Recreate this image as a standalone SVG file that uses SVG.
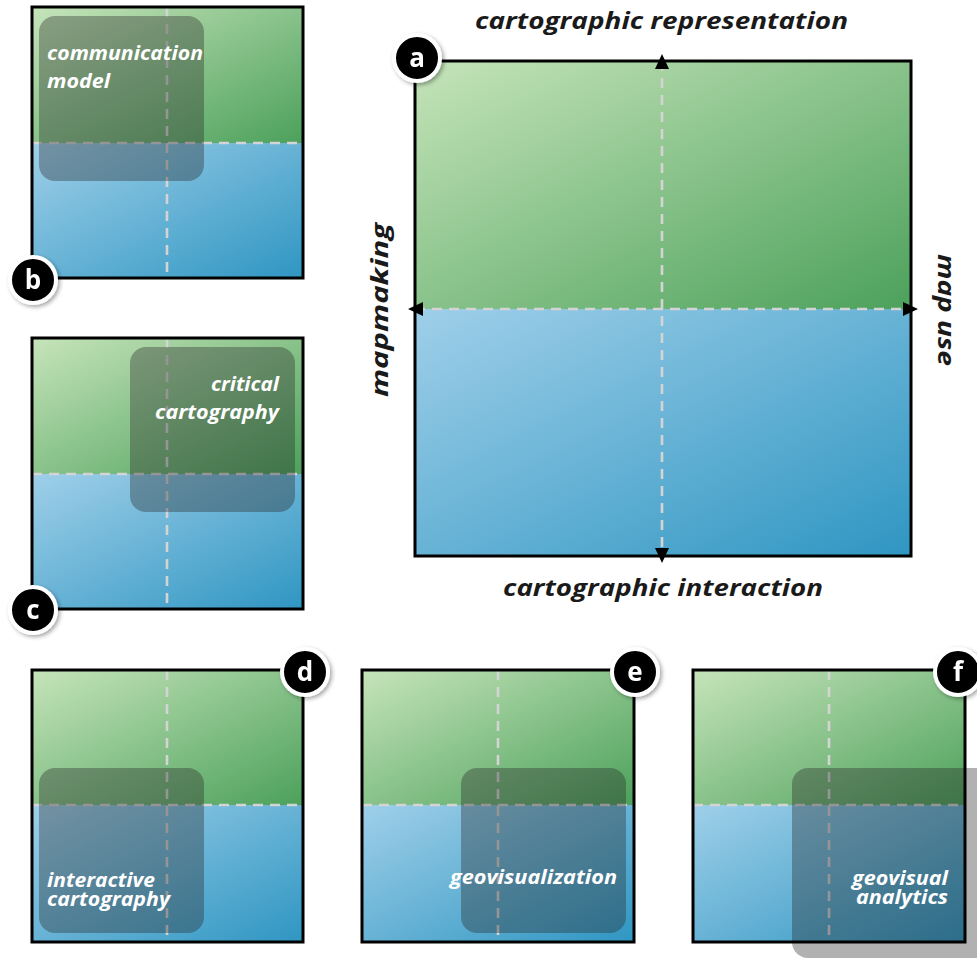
<svg xmlns="http://www.w3.org/2000/svg" width="977" height="959" viewBox="0 0 977 959">
<defs>
<linearGradient id="gGreen" x1="0" y1="0" x2="1" y2="1"><stop offset="0" stop-color="#c6e4ba"/><stop offset="1" stop-color="#4ca15b"/></linearGradient>
<linearGradient id="gBlue" x1="0" y1="0" x2="1" y2="1"><stop offset="0" stop-color="#9fcfe9"/><stop offset="1" stop-color="#2f96c2"/></linearGradient>
<filter id="sh" x="-30%" y="-30%" width="160%" height="160%"><feDropShadow dx="2" dy="2" stdDeviation="2" flood-color="#000" flood-opacity="0.35"/></filter>
<marker id="arr" viewBox="0 0 15 14" markerWidth="15" markerHeight="14" refX="8" refY="7" markerUnits="userSpaceOnUse" orient="auto-start-reverse"><path d="M0,0 L15,7 L0,14 Z" fill="#000"/></marker>
<style>
.frame{fill:none;stroke:#000;stroke-width:3}
.dash{stroke:#d4d4d4;stroke-width:2.6;stroke-dasharray:10 7;fill:none}
.ov{fill:#262626;fill-opacity:0.36}
.lbl{font-family:"Open Sans",Lato,sans-serif;font-weight:700;font-style:italic;fill:#fff;font-size:19px}
.axis{font-family:"Open Sans",Lato,sans-serif;font-weight:700;font-style:italic;fill:#1a1a1a;font-size:24px}
.badge circle{fill:#000;stroke:#fff;stroke-width:4}
.badge text{font-family:"Open Sans",Lato,sans-serif;font-weight:700;fill:#fff;font-size:26px;text-anchor:middle}
</style>
</defs>
<rect width="977" height="959" fill="#fff"/>

<!-- panel a -->
<g id="panel-a">
<rect x="415" y="61" width="496" height="248" fill="url(#gGreen)"/>
<rect x="415" y="309" width="496" height="247" fill="url(#gBlue)"/>
<rect class="frame" x="415" y="61" width="496" height="495"/>
<text class="axis" x="475" y="29" textLength="373" lengthAdjust="spacingAndGlyphs">cartographic representation</text>
<text class="axis" x="503" y="596" textLength="320" lengthAdjust="spacingAndGlyphs">cartographic interaction</text>
<text class="axis" transform="translate(388,397) rotate(-90)" textLength="174" lengthAdjust="spacingAndGlyphs">mapmaking</text>
<text class="axis" transform="translate(938,254) rotate(90)" textLength="112" lengthAdjust="spacingAndGlyphs">map use</text>
<g class="badge" filter="url(#sh)"><circle cx="417" cy="58" r="23"/><text x="417" y="67">a</text></g>
</g>

<g id="connectors">
<line class="dash" x1="662" y1="61" x2="662" y2="556" marker-start="url(#arr)" marker-end="url(#arr)"/>
<line class="dash" x1="415" y1="309" x2="911" y2="309" marker-start="url(#arr)" marker-end="url(#arr)"/>
</g>

<!-- panel b -->
<g id="panel-b">
<rect x="32" y="7" width="271" height="136" fill="url(#gGreen)"/>
<rect x="32" y="143" width="271" height="135" fill="url(#gBlue)"/>
<line class="dash" x1="167" y1="7" x2="167" y2="278"/>
<line class="dash" x1="32" y1="143" x2="303" y2="143"/>
<rect class="ov" x="39" y="16" width="165" height="165" rx="16"/>
<rect class="frame" x="32" y="7" width="271" height="271"/>
<text class="lbl" x="47" y="60" textLength="156" lengthAdjust="spacingAndGlyphs">communication</text>
<text class="lbl" x="47" y="88" textLength="63" lengthAdjust="spacingAndGlyphs">model</text>
<g class="badge" filter="url(#sh)"><circle cx="33" cy="280" r="23"/><text x="33" y="289">b</text></g>
</g>

<!-- panel c -->
<g id="panel-c">
<rect x="32" y="338" width="271" height="136" fill="url(#gGreen)"/>
<rect x="32" y="474" width="271" height="135" fill="url(#gBlue)"/>
<line class="dash" x1="167" y1="338" x2="167" y2="609"/>
<line class="dash" x1="32" y1="474" x2="303" y2="474"/>
<rect class="ov" x="130" y="347" width="165" height="165" rx="16"/>
<rect class="frame" x="32" y="338" width="271" height="271"/>
<text class="lbl" x="211" y="391" textLength="68" lengthAdjust="spacingAndGlyphs">critical</text>
<text class="lbl" x="155" y="419" textLength="124" lengthAdjust="spacingAndGlyphs">cartography</text>
<g class="badge" filter="url(#sh)"><circle cx="33" cy="610" r="23"/><text x="33" y="619">c</text></g>
</g>

<!-- panel d -->
<g id="panel-d">
<rect x="32" y="670" width="271" height="135" fill="url(#gGreen)"/>
<rect x="32" y="805" width="271" height="137" fill="url(#gBlue)"/>
<line class="dash" x1="167" y1="670" x2="167" y2="942"/>
<line class="dash" x1="32" y1="805" x2="303" y2="805"/>
<rect class="ov" x="39" y="768" width="165" height="165" rx="16"/>
<rect class="frame" x="32" y="670" width="271" height="272"/>
<text class="lbl" x="47" y="887" textLength="108" lengthAdjust="spacingAndGlyphs">interactive</text>
<text class="lbl" x="47" y="906" textLength="123" lengthAdjust="spacingAndGlyphs">cartography</text>
<g class="badge" filter="url(#sh)"><circle cx="305" cy="672" r="23"/><text x="305" y="681">d</text></g>
</g>

<!-- panel e -->
<g id="panel-e">
<rect x="362" y="670" width="272" height="135" fill="url(#gGreen)"/>
<rect x="362" y="805" width="272" height="137" fill="url(#gBlue)"/>
<line class="dash" x1="498" y1="670" x2="498" y2="942"/>
<line class="dash" x1="362" y1="805" x2="634" y2="805"/>
<rect class="ov" x="461" y="768" width="165" height="165" rx="16"/>
<rect class="frame" x="362" y="670" width="272" height="272"/>
<text class="lbl" x="450" y="884" textLength="167" lengthAdjust="spacingAndGlyphs">geovisualization</text>
<g class="badge" filter="url(#sh)"><circle cx="635" cy="672" r="23"/><text x="635" y="681">e</text></g>
</g>

<!-- panel f -->
<g id="panel-f">
<rect x="693" y="670" width="272" height="135" fill="url(#gGreen)"/>
<rect x="693" y="805" width="272" height="137" fill="url(#gBlue)"/>
<line class="dash" x1="829" y1="670" x2="829" y2="942"/>
<line class="dash" x1="693" y1="805" x2="965" y2="805"/>
<rect class="ov" x="792" y="768" width="215" height="190" rx="16"/>
<rect class="frame" x="693" y="670" width="272" height="272"/>
<text class="lbl" x="852" y="885" textLength="96" lengthAdjust="spacingAndGlyphs">geovisual</text>
<text class="lbl" x="856" y="904" textLength="92" lengthAdjust="spacingAndGlyphs">analytics</text>
<g class="badge" filter="url(#sh)"><circle cx="958" cy="672" r="23"/><text x="958" y="681">f</text></g>
</g>
</svg>
